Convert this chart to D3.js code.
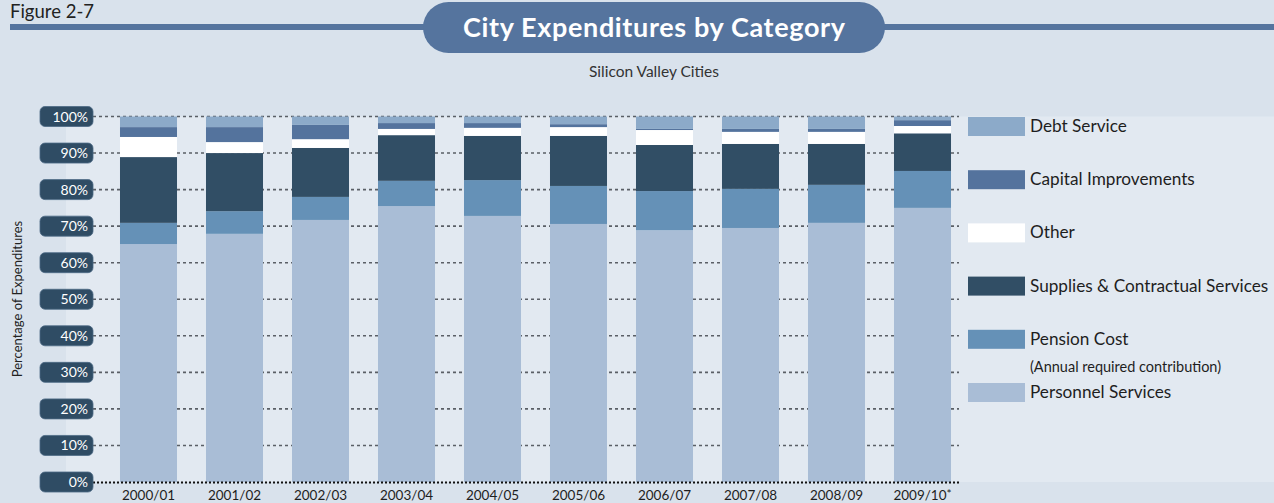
<!DOCTYPE html>
<html>
<head>
<meta charset="utf-8">
<script src="https://cdn.jsdelivr.net/npm/d3@7/dist/d3.min.js"></script>
<style>
  html, body { margin: 0; padding: 0; background: #d9e2ec; }
  svg { display: block; font-family: Lato, "Open Sans", sans-serif; }
</style>
</head>
<body>
<svg id="chart" width="1274" height="503"></svg>
<script>
// Fiscal years shown on the x axis
const years = ["2000/01", "2001/02", "2002/03", "2003/04", "2004/05",
               "2005/06", "2006/07", "2007/08", "2008/09", "2009/10"];

// Share of total expenditures (%) per category, one value per fiscal year
const personnel = [65.1, 67.9, 71.7, 75.5, 72.8, 70.6, 68.9, 69.5, 70.9, 75.0];
const pension   = [5.8, 6.2, 6.3, 6.9, 9.8, 10.4, 10.7, 10.7, 10.4, 10.1];
const supplies  = [18.0, 15.9, 13.4, 12.5, 12.1, 13.7, 12.6, 12.3, 11.2, 10.3];
const other     = [5.5, 3.0, 2.4, 1.7, 2.2, 2.4, 4.1, 3.3, 3.3, 2.0];
const capital   = [2.7, 4.1, 3.9, 1.6, 1.3, 0.8, 0.3, 0.8, 0.8, 1.6];
const debt      = [2.9, 2.9, 2.3, 1.8, 1.8, 2.1, 3.4, 3.4, 3.4, 1.0];

// Y axis tick values
const yTicks = [0, 10, 20, 30, 40, 50, 60, 70, 80, 90, 100];

// Series, bottom of the stack first
const series = [
  { key: "personnel", label: "Personnel Services",            values: personnel, color: "#a9bdd6" },
  { key: "pension",   label: "Pension Cost",                  values: pension,   color: "#6591b7" },
  { key: "supplies",  label: "Supplies & Contractual Services", values: supplies, color: "#314e65" },
  { key: "other",     label: "Other",                         values: other,     color: "#ffffff" },
  { key: "capital",   label: "Capital Improvements",          values: capital,   color: "#54739d" },
  { key: "debt",      label: "Debt Service",                  values: debt,      color: "#8caac9" }
];

const rows = years.map((yr, i) => {
  const r = { year: yr };
  series.forEach(s => { r[s.key] = s.values[i]; });
  return r;
});

const svg = d3.select("#chart");
const W = 1274, H = 503;

const y = d3.scaleLinear().domain([0, 100]).range([482, 116.5]);
const x = d3.scaleBand().domain(years).range([105.5, 965.5])
  .paddingInner(0.337).paddingOuter(0.1685);
const color = d3.scaleOrdinal().domain(series.map(s => s.key)).range(series.map(s => s.color));

// Page background and lighter plotting panel
svg.append("rect").attr("width", W).attr("height", H).attr("fill", "#d9e2ec");
svg.append("rect")
  .attr("x", 66).attr("y", y(100))
  .attr("width", W - 66).attr("height", y(0) - y(100))
  .attr("fill", "#e2e9f1");

// Header: figure number, rule and title pill
svg.append("text").attr("x", 10).attr("y", 18)
  .attr("font-size", 18.5).attr("fill", "#222").text("Figure 2-7");
svg.append("rect").attr("x", 10).attr("y", 24).attr("width", W - 10).attr("height", 6)
  .attr("fill", "#55749e");
svg.append("rect").attr("x", 423).attr("y", 2).attr("width", 462).attr("height", 51)
  .attr("rx", 25.5).attr("fill", "#55749e");
svg.append("text").attr("x", 654).attr("y", 37).attr("text-anchor", "middle")
  .attr("font-size", 27).attr("font-weight", "bold").attr("fill", "#ffffff")
  .attr("textLength", 382).attr("lengthAdjust", "spacing")
  .text("City Expenditures by Category");
svg.append("text").attr("x", 654).attr("y", 77).attr("text-anchor", "middle")
  .attr("font-size", 15.5).attr("fill", "#333").text("Silicon Valley Cities");

// Y axis title
svg.append("text")
  .attr("transform", "translate(22,299) rotate(-90)")
  .attr("text-anchor", "middle").attr("font-size", 13).attr("fill", "#222")
  .text("Percentage of Expenditures");

// Dashed gridlines
svg.append("g").selectAll("line")
  .data(yTicks.filter(d => d > 0))
  .join("line")
  .attr("x1", 93).attr("x2", 959)
  .attr("y1", d => y(d)).attr("y2", d => y(d))
  .attr("stroke", "#5a5f66").attr("stroke-width", 1.6)
  .attr("stroke-dasharray", "3,3");

// Stacked bars
const stacked = d3.stack().keys(series.map(s => s.key))(rows);
svg.append("g").selectAll("g")
  .data(stacked)
  .join("g")
  .attr("fill", d => color(d.key))
  .selectAll("rect")
  .data(d => d)
  .join("rect")
  .attr("x", d => x(d.data.year))
  .attr("width", x.bandwidth())
  .attr("y", d => y(d[1]))
  .attr("height", d => y(d[0]) - y(d[1]));

// Baseline
svg.append("line")
  .attr("x1", 93).attr("x2", 959)
  .attr("y1", y(0) + 0.5).attr("y2", y(0) + 0.5)
  .attr("stroke", "#111").attr("stroke-width", 2)
  .attr("stroke-dasharray", "2,2");

// Y tick labels in rounded boxes
const tickG = svg.append("g").selectAll("g")
  .data(yTicks)
  .join("g")
  .attr("transform", d => `translate(0,${y(d)})`);
tickG.append("rect")
  .attr("x", 40).attr("y", -10).attr("width", 53).attr("height", 20)
  .attr("rx", 5).attr("fill", "#2f4c64")
  .attr("stroke", "#4d6a85").attr("stroke-width", 0.8);
tickG.append("text")
  .attr("x", 88).attr("y", 5).attr("text-anchor", "end")
  .attr("font-size", 14).attr("fill", "#ffffff")
  .text(d => d + "%");

// X axis labels
const xl = svg.append("g").selectAll("text")
  .data(years)
  .join("text")
  .attr("x", d => x(d) + x.bandwidth() / 2)
  .attr("y", 499.5)
  .attr("text-anchor", "middle")
  .attr("font-size", 13.5).attr("fill", "#1e1e1e")
  .text(d => d);
xl.filter(d => d === years[years.length - 1])
  .append("tspan").attr("dy", -2).attr("font-size", 12).text("*");

// Legend, top of stack first
const legendItems = series.slice().reverse();
const lg = svg.append("g").selectAll("g")
  .data(legendItems)
  .join("g")
  .attr("transform", (d, i) => `translate(968,${117 + i * 53.2})`);
lg.append("rect").attr("width", 57).attr("height", 19).attr("fill", d => d.color);
lg.append("text").attr("x", 62).attr("y", 15)
  .attr("font-size", 17.2).attr("fill", "#1e1e1e")
  .text(d => d.label);
svg.append("text").attr("x", 1030).attr("y", 372)
  .attr("font-size", 14.5).attr("fill", "#1e1e1e")
  .text("(Annual required contribution)");
</script>
</body>
</html>
